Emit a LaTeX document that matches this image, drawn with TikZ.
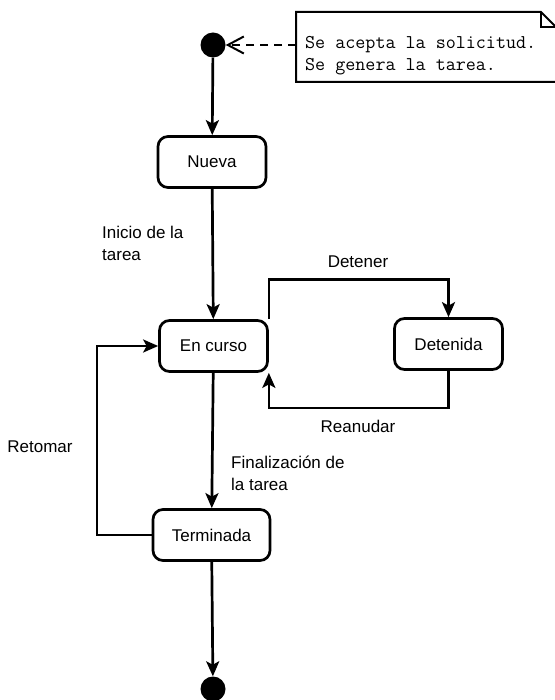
\documentclass[tikz,border=0pt]{standalone}
\usepackage{fontspec}
\setmainfont{Liberation Sans}
\usetikzlibrary{arrows.meta}
\tikzset{
  state/.style={draw, line width=2.7pt, rounded corners=10pt, minimum width=108pt, minimum height=51pt, inner sep=0pt, font=\fontsize{17}{20}\selectfont},
  flow/.style={line width=2.7pt, -{Stealth[length=15pt, width=13pt, inset=3.5pt]}},
  lbl/.style={font=\fontsize{17}{22}\selectfont, align=left, inner sep=0pt},
  dot/.style={circle, fill=black, minimum size=25pt, inner sep=0pt},
}
\begin{document}
\begin{tikzpicture}[x=1pt, y=-1pt]
\useasboundingbox (0,0) rectangle (554,700);

% start and end points
\node[dot] (start) at (213,45) {};
\node[dot] (end) at (213,689) {};

% states
\node[state] (nueva) at (212,162) {Nueva};
\node[state] (curso) at (213.5,346) {En curso};
\node[state] (detenida) at (448.5,344) {Detenida};
\node[state, minimum width=117pt] (term) at (211.5,535) {Terminada};

% note with folded corner
\coordinate (noteL) at (296,45);
\draw[line width=2pt, fill=white] (296,12) -- (541,12) -- (556,27) -- (556,82) -- (296,82) -- cycle;
\draw[line width=1.4pt] (541,12) -- (541,27) -- (556,27);
\node[anchor=north west, inner sep=0pt, align=left, font=\ttfamily\fontsize{19.5}{22}\selectfont] (note) at (305,36)
  {Se acepta la solicitud.\\Se genera la tarea.};
\draw[line width=2.7pt, dash pattern=on 8pt off 6pt, -{Straight Barb[length=16pt, width=17pt, line width=2pt]}]
  (noteL) -- (start.east);

% transitions
\draw[flow] (start) -- (nueva);
\draw[flow] (nueva) -- (curso);
\draw[flow] (curso) -- (term);
\draw[flow] (term) -- (end);
\draw[flow] (curso.north east) -- ++(0,-40) -| (detenida.north);
\draw[flow] (detenida.south) -- ++(0,37) -| (curso.south east);
\draw[flow] (term.west) -- (97,535) |- (curso.west);

% labels
\node[lbl, anchor=north west] (l1) at (102,226) {Inicio de la\\tarea};
\node[lbl] (l2) at (358,262) {Detener};
\node[lbl] (l3) at (358,426) {Reanudar};
\node[lbl, anchor=north west] (l4) at (231,456) {Finalización de\\la tarea};
\node[lbl] (l5) at (40,447) {Retomar};
\end{tikzpicture}
\end{document}
